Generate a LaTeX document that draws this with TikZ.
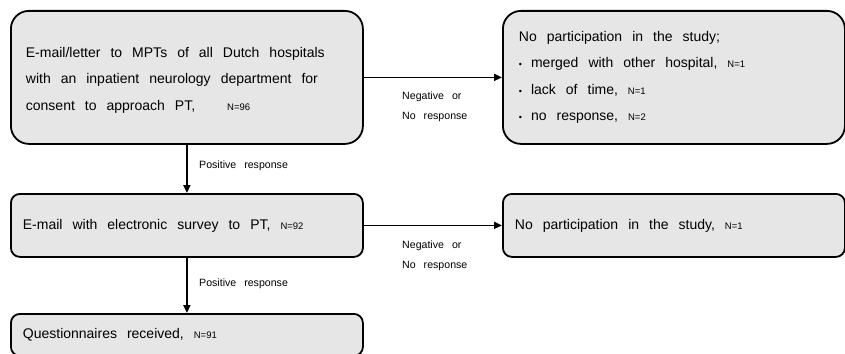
\documentclass[tikz,border=0pt]{standalone}
\usepackage{fontspec}
\setmainfont{Liberation Sans}
\usetikzlibrary{arrows.meta}
\definecolor{boxgray}{HTML}{E6E6E6}
\newcommand\smallN[1]{{\fontsize{9.5}{10}\selectfont N=#1}}
\newcommand\bigfnt{\fontsize{14}{26.5}\selectfont}
\newcommand\lblfnt{\fontsize{10.6}{20.5}\selectfont}
\newcommand\wideA{\spaceskip=10pt plus 1pt\relax}
\newcommand\wideB{\spaceskip=8pt\relax}
\newcommand\bul{{\fontsize{9}{9}\selectfont\textbullet}\hspace{9pt}}
\begin{document}
\begin{tikzpicture}[x=1pt,y=-1pt,
  box/.style={draw=black, line width=1.8pt, fill=boxgray, anchor=north west,
    align=left, inner ysep=0pt, font=\bigfnt},
  lbl/.style={anchor=west, align=left, inner sep=0pt, font=\lblfnt},
  arr/.style={line width=1.8pt, -{Triangle[length=8pt,width=7pt]}}]
\useasboundingbox (0,0) rectangle (845,353);
\node[box, rounded corners=18pt, minimum width=352pt, minimum height=133pt,
  inner xsep=15pt, text width=322pt] (b1) at (10,10)
  {\wideA\rule{0pt}{16pt}E-mail/letter to MPTs of all Dutch hospitals\\
   with an inpatient neurology department for\\
   consent to approach PT,\hspace{32pt}\smallN{96}};
\node[box, rounded corners=18pt, minimum width=342pt, minimum height=133pt,
  inner xsep=16pt, text width=310pt] (b2) at (502,10)
  {\wideA No participation in the study;\\
   \bul merged with other hospital, \smallN{1}\\
   \bul lack of time, \smallN{1}\\
   \bul no response, \smallN{2}};
\node[box, rounded corners=9pt, minimum width=352pt, minimum height=63pt,
  inner xsep=12pt, text width=328pt] (b3) at (10,193)
  {\wideA E-mail with electronic survey to PT, \smallN{92}};
\node[box, rounded corners=9pt, minimum width=342pt, minimum height=63pt,
  inner xsep=12pt, text width=318pt] (b4) at (502,193)
  {\wideA No participation in the study, \smallN{1}};
\node[box, rounded corners=9pt, minimum width=352pt, minimum height=42pt,
  inner xsep=12pt, text width=328pt] (b5) at (10,313)
  {\wideA Questionnaires received, \smallN{91}};
\draw[arr] (b1.east) -- (b2.west);
\draw[arr] (b1.south) -- (b3.north);
\draw[arr] (b3.east) -- (b4.west);
\draw[arr] (b3.south) -- (b5.north);
\node[lbl] (l1) at (402,107) {\wideB Negative or\\\wideB No response};
\node[lbl] (l2) at (402,256) {\wideB Negative or\\\wideB No response};
\node[lbl] (l3) at (199,166) {\wideB Positive response};
\node[lbl] (l4) at (199,284) {\wideB Positive response};
\end{tikzpicture}
\end{document}
